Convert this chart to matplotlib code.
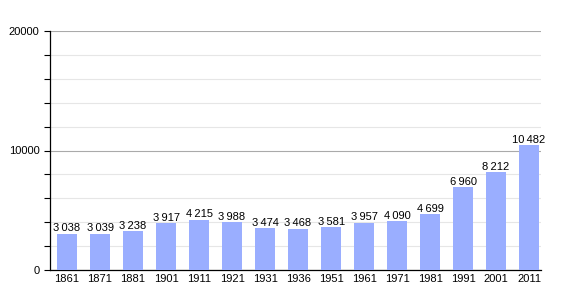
import matplotlib.pyplot as plt
from matplotlib.ticker import MultipleLocator

plt.rcParams['font.family'] = ['Liberation Sans', 'DejaVu Sans']

# series historica da populacao
anos = ['1861', '1871', '1881', '1901', '1911', '1921', '1931', '1936',
        '1951', '1961', '1971', '1981', '1991', '2001', '2011']
populacao = [3038, 3039, 3238, 3917, 4215, 3988, 3474, 3468,
             3581, 3957, 4090, 4699, 6960, 8212, 10482]

fig = plt.figure(figsize=(5.7, 3), dpi=100)
ax = fig.add_axes([50/570, 0.1, 491/570, 239/300])

x = range(len(anos))
ax.bar(x, populacao, width=0.62, color='#9aaeff', zorder=3)

for i, v in enumerate(populacao):
    txt = f'{v:,}'.replace(',', '\u2009')
    ax.text(i, v + 20, txt, ha='center', va='bottom', fontsize=8, zorder=4)

ax.set_xlim(-0.515, 14.36)
ax.set_ylim(0, 20000)
ax.set_xticks(list(x))
ax.set_xticklabels(anos, fontsize=8)
ax.yaxis.set_major_locator(MultipleLocator(10000))
ax.yaxis.set_minor_locator(MultipleLocator(2000))
ax.tick_params(axis='y', which='both', labelsize=8, length=4, width=0.8)
ax.tick_params(axis='x', length=0, pad=3)

ax.grid(axis='y', which='major', color='#aaaaaa', linewidth=0.8, zorder=1)
ax.grid(axis='y', which='minor', color='#e6e6e6', linewidth=0.8, zorder=1)

for s in ['top', 'right']:
    ax.spines[s].set_visible(False)
ax.spines['left'].set_linewidth(0.9)
ax.spines['bottom'].set_linewidth(0.9)

plt.savefig('out.png', dpi=100)
